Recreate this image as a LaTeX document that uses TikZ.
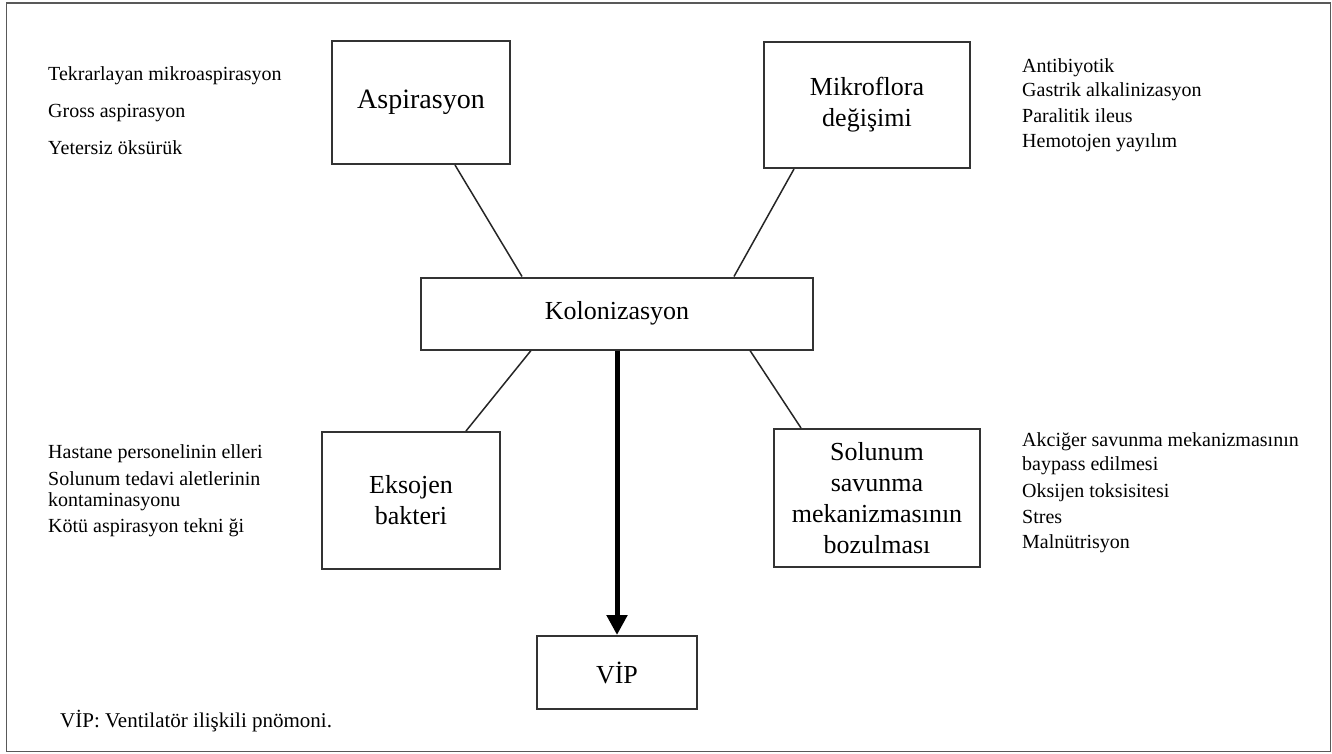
\documentclass[tikz,border=0pt]{standalone}
\usepackage{fontspec}
\setmainfont{Liberation Serif}
\usetikzlibrary{arrows.meta}

\begin{document}
\begin{tikzpicture}[x=1pt,y=-1pt]
      \tikzstyle{box}=[draw=black!80,line width=2pt,fill=white,inner sep=0pt,
			      align=center,font=\fontsize{26}{31}\selectfont]
      \tikzstyle{item}=[anchor=west,inner sep=0pt,font=\fontsize{20}{24}\selectfont]
      \tikzstyle{link}=[line width=1.5pt,black!85]
      \useasboundingbox (0,0) rectangle (1332,753);
      \draw[black!65,line width=1.4pt] (6.5,3) rectangle (1330.5,751.5);
      % the five boxes
      \node (aspir) [box,minimum width=178pt,minimum height=123pt,
		     font=\fontsize{28}{33}\selectfont] at (421,102.5) {Aspirasyon};
      \node (mikro) [box,minimum width=206pt,minimum height=126pt] at (867,105)
	  {Mikroflora\\değişimi};
      \node (colon) [box,minimum width=392pt,minimum height=72pt] at (617,313.5)
	  {Kolonizasyon};
      \node (eksojen) [box,minimum width=178pt,minimum height=137pt] at (411,500.5)
	  {Eksojen\\bakteri};
      \node (solunum) [box,minimum width=206pt,minimum height=138pt] at (877,498)
	  {Solunum\\savunma\\mekanizmasının\\bozulması};
      \node (vip) [box,minimum width=160pt,minimum height=73pt] at (617,672.5) {VİP};
      \draw[link] ([xshift=34pt]aspir.south) -- ([xshift=-95pt]colon.north);
      \draw[link] ([xshift=-73pt]mikro.south) -- ([xshift=117pt]colon.north);
      \draw[link] ([xshift=-86pt]colon.south) -- ([xshift=55pt]eksojen.north);
      \draw[link] ([xshift=133pt]colon.south) -- ([xshift=-76pt]solunum.north);
      \draw[line width=5pt,-{Triangle[length=20pt,width=20pt]}] (colon.south) -- (vip.north);
      % causes
      \node (a1) [item] at (48,76) {Tekrarlayan mikroaspirasyon};
      \node (a2) [item] at (48,113) {Gross aspirasyon};
      \node (a3) [item] at (48,148) {Yetersiz öksürük};
      \node (m1) [item] at (1022,68) {Antibiyotik};
      \node (m2) [item] at (1022,92) {Gastrik alkalinizasyon};
      \node (m3) [item] at (1022,116) {Paralitik ileus};
      \node (m4) [item] at (1022,143) {Hemotojen yayılım};
      \node (e1) [item] at (48,454) {Hastane personelinin elleri};
      \node (e2) [item] at (48,479) {Solunum tedavi aletlerinin};
      \node (e3) [item] at (48,502) {kontaminasyonu};
      \node (e4) [item] at (48,528) {Kötü aspirasyon tekni ği};
      \node (s1) [item] at (1022,442) {Akciğer savunma mekanizmasının};
      \node (s2) [item] at (1022,466) {baypass edilmesi};
      \node (s3) [item] at (1022,493) {Oksijen toksisitesi};
      \node (s4) [item] at (1022,517) {Stres};
      \node (s5) [item] at (1022,544) {Malnütrisyon};
      \node (note) [item,font=\fontsize{21}{25}\selectfont] at (60,721)
	  {VİP: Ventilatör ilişkili pnömoni.};
\end{tikzpicture}
\end{document}
